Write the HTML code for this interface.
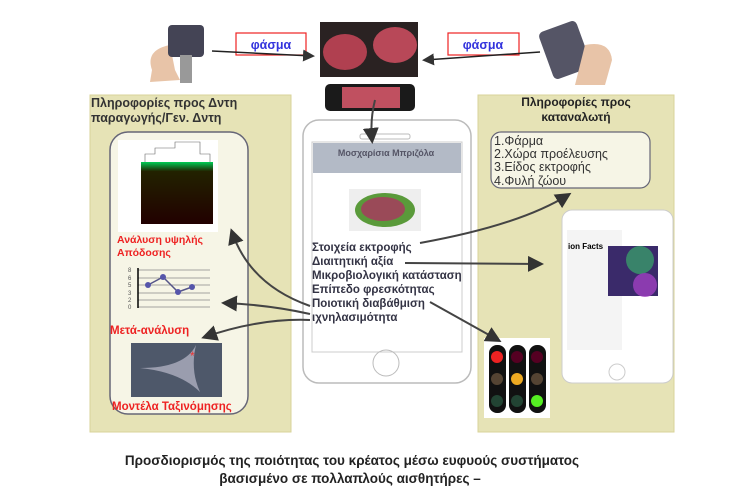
<!DOCTYPE html>
<html><head><meta charset="utf-8"><style>
body{margin:0;background:#fff;width:734px;height:502px;overflow:hidden;font-family:"Liberation Sans",sans-serif}
svg{display:block}
</style></head><body>
<svg width="734" height="502" viewBox="0 0 734 502" xmlns="http://www.w3.org/2000/svg" font-family="Liberation Sans, DejaVu Sans, sans-serif">
<defs>
<marker id="ah" markerWidth="8" markerHeight="8" refX="6" refY="4" orient="auto"><path d="M0,0 L8,4 L0,8 z" fill="#333"/></marker>
<linearGradient id="hm" x1="0" y1="0" x2="0" y2="1"><stop offset="0" stop-color="#0c5"/><stop offset="0.15" stop-color="#220"/><stop offset="1" stop-color="#200"/></linearGradient>
</defs>
<rect x="90" y="95" width="201" height="337" fill="#e6e3b6" stroke="#d8d39a"/>
<rect x="478" y="95" width="196" height="337" fill="#e6e3b6" stroke="#d8d39a"/>
<rect x="110" y="132" width="138" height="282" rx="18" fill="#f6f5e6" stroke="#667" stroke-width="1.5"/>
<text x="91" y="107" font-size="12.5" font-weight="bold" fill="#333">Πληροφορίες προς Δντη</text>
<text x="91" y="122" font-size="12.5" font-weight="bold" fill="#333">παραγωγής/Γεν. Δντη</text>
<text x="576" y="106" font-size="12" font-weight="bold" fill="#222" text-anchor="middle">Πληροφορίες προς</text>
<text x="576" y="121" font-size="12" font-weight="bold" fill="#222" text-anchor="middle">καταναλωτή</text>
<rect x="118" y="140" width="100" height="92" fill="#fff"/>
<rect x="141" y="162" width="72" height="62" fill="url(#hm)"/>
<path d="M145,162 v-8 h10 v-6 h20 v-6 h25 v12 h10 v8" fill="none" stroke="#666" stroke-width="0.6"/>
<text x="117" y="243" font-size="10.5" font-weight="bold" fill="#e22">Ανάλυση υψηλής</text>
<text x="117" y="256" font-size="10.5" font-weight="bold" fill="#e22">Απόδοσης</text>
<g stroke="#888" stroke-width="0.7"><line x1="138" y1="270" x2="210" y2="270"/><line x1="138" y1="278" x2="210" y2="278"/><line x1="138" y1="285" x2="210" y2="285"/><line x1="138" y1="293" x2="210" y2="293"/><line x1="138" y1="300" x2="210" y2="300"/><line x1="138" y1="307" x2="210" y2="307"/></g>
<line x1="138" y1="268" x2="138" y2="308" stroke="#000" stroke-width="1.5"/>
<polyline points="148,285 163,277 178,292 192,287" fill="none" stroke="#558" stroke-width="1.5"/>
<g fill="#55a"><circle cx="148" cy="285" r="3"/><circle cx="163" cy="277" r="3"/><circle cx="178" cy="292" r="3"/><circle cx="192" cy="287" r="3"/></g>
<g font-size="6" fill="#555"><text x="128" y="272">8</text><text x="128" y="280">6</text><text x="128" y="287">5</text><text x="128" y="295">3</text><text x="128" y="302">2</text><text x="128" y="309">0</text></g>
<text x="110" y="334" font-size="11.5" font-weight="bold" fill="#e22">Μετά-ανάλυση</text>
<rect x="131" y="343" width="91" height="54" fill="#4e586a"/>
<path d="M140,368 Q180,372 200,392 Q190,370 196,345 Q185,368 140,368" fill="#bbc" opacity="0.7"/>
<text x="190" y="360" font-size="12" fill="#e33">*</text>
<text x="112" y="410" font-size="11.5" font-weight="bold" fill="#e22">Μοντέλα Ταξινόμησης</text>
<path d="M152,70 Q145,50 170,45 L175,70 L180,80 L150,82 z" fill="#e8c4a8"/>
<rect x="168" y="25" width="36" height="32" rx="4" fill="#445"/>
<rect x="180" y="55" width="12" height="28" fill="#999"/>
<rect x="236" y="33" width="70" height="22" fill="#fff" stroke="#e22" stroke-width="1.2"/>
<text x="271" y="49" font-size="12.5" font-weight="bold" fill="#33d" text-anchor="middle">φάσμα</text>
<line x1="212" y1="51" x2="312" y2="56" stroke="#222" stroke-width="1.5" marker-end="url(#ah)"/>
<rect x="320" y="22" width="98" height="55" fill="#2a2222"/>
<ellipse cx="345" cy="52" rx="22" ry="18" fill="#b04050"/><ellipse cx="395" cy="45" rx="22" ry="18" fill="#b84858"/>
<rect x="325" y="84" width="90" height="27" rx="5" fill="#1a1a1a"/>
<rect x="342" y="87" width="58" height="21" fill="#c05060"/>
<rect x="448" y="33" width="71" height="22" fill="#fff" stroke="#e22" stroke-width="1.2"/>
<text x="483" y="49" font-size="12.5" font-weight="bold" fill="#33d" text-anchor="middle">φάσμα</text>
<line x1="540" y1="52" x2="425" y2="60" stroke="#222" stroke-width="1.5" marker-end="url(#ah)"/>
<rect x="545" y="25" width="40" height="50" rx="5" fill="#556" transform="rotate(-20 565 50)"/>
<path d="M585,45 Q610,40 612,60 L605,85 L575,85 z" fill="#e8c4a8"/>
<rect x="303" y="120" width="168" height="263" rx="16" fill="#fff" stroke="#bbb" stroke-width="1.5"/>
<rect x="360" y="134" width="50" height="5" rx="2" fill="none" stroke="#bbb"/>
<rect x="312" y="142" width="150" height="210" fill="#fff" stroke="#ccc"/>
<rect x="313" y="143" width="148" height="30" fill="#b3bac6"/>
<text x="386" y="156" font-size="9" font-weight="bold" fill="#556" text-anchor="middle">Μοσχαρίσια Μπριζόλα</text>
<rect x="349" y="189" width="72" height="42" fill="#eee"/>
<ellipse cx="385" cy="210" rx="30" ry="17" fill="#5a9a3a"/><ellipse cx="383" cy="209" rx="22" ry="12" fill="#9a4a58"/>
<circle cx="386" cy="363" r="13" fill="none" stroke="#bbb"/>
<g font-size="11.5" font-weight="bold" fill="#334">
<text x="312" y="251">Στοιχεία εκτροφής</text>
<text x="312" y="265">Διαιτητική αξία</text>
<text x="312" y="279">Μικροβιολογική κατάσταση</text>
<text x="312" y="293">Επίπεδο φρεσκότητας</text>
<text x="312" y="307">Ποιοτική διαβάθμιση</text>
<text x="312" y="321">ιχνηλασιμότητα</text>
</g>
<rect x="491" y="132" width="159" height="56" rx="10" fill="#f6f5e6" stroke="#667" stroke-width="1.2"/>
<g font-size="12.5" fill="#333">
<text x="494" y="145">1.Φάρμα</text><text x="494" y="158">2.Χώρα προέλευσης</text><text x="494" y="171">3.Είδος εκτροφής</text><text x="494" y="185">4.Φυλή ζώου</text>
</g>
<rect x="562" y="210" width="111" height="173" rx="10" fill="#fff" stroke="#ccc"/>
<rect x="567" y="230" width="55" height="120" fill="#f4f4f4"/>
<text x="568" y="249" font-size="8" font-weight="bold">ion Facts</text>
<rect x="608" y="246" width="50" height="50" fill="#3a2a6a"/>
<circle cx="640" cy="260" r="14" fill="#3a9a6a" opacity="0.8"/><circle cx="645" cy="285" r="12" fill="#a040c0" opacity="0.8"/>
<circle cx="617" cy="372" r="8" fill="none" stroke="#ccc"/>
<rect x="484" y="338" width="66" height="80" fill="#fff"/>
<g><rect x="489" y="345" width="17" height="68" rx="8" fill="#111"/><rect x="509" y="345" width="17" height="68" rx="8" fill="#111"/><rect x="529" y="345" width="17" height="68" rx="8" fill="#111"/>
<circle cx="497" cy="357" r="6" fill="#e22"/><circle cx="497" cy="379" r="6" fill="#543"/><circle cx="497" cy="401" r="6" fill="#243"/>
<circle cx="517" cy="357" r="6" fill="#502"/><circle cx="517" cy="379" r="6" fill="#ea2"/><circle cx="517" cy="401" r="6" fill="#243"/>
<circle cx="537" cy="357" r="6" fill="#502"/><circle cx="537" cy="379" r="6" fill="#543"/><circle cx="537" cy="401" r="6" fill="#5e2"/></g>
<g fill="none" stroke="#444" stroke-width="2">
<path d="M375,100 Q370,120 372,140" marker-end="url(#ah)"/>
<path d="M420,243 Q520,225 568,195" marker-end="url(#ah)"/>
<path d="M405,263 L540,264" marker-end="url(#ah)"/>
<path d="M430,302 L498,340" marker-end="url(#ah)"/>
<path d="M310,306 Q250,285 232,232" marker-end="url(#ah)"/>
<path d="M310,314 Q270,305 225,303" marker-end="url(#ah)"/>
<path d="M310,320 Q260,318 205,337" marker-end="url(#ah)"/>
</g>
<text x="352" y="465" font-size="13.5" font-weight="bold" fill="#222" text-anchor="middle">Προσδιορισμός της ποιότητας του κρέατος μέσω ευφυούς συστήματος</text>
<text x="350" y="483" font-size="13.5" font-weight="bold" fill="#222" text-anchor="middle">βασισμένο σε πολλαπλούς αισθητήρες –</text>
</svg>
</body></html>
